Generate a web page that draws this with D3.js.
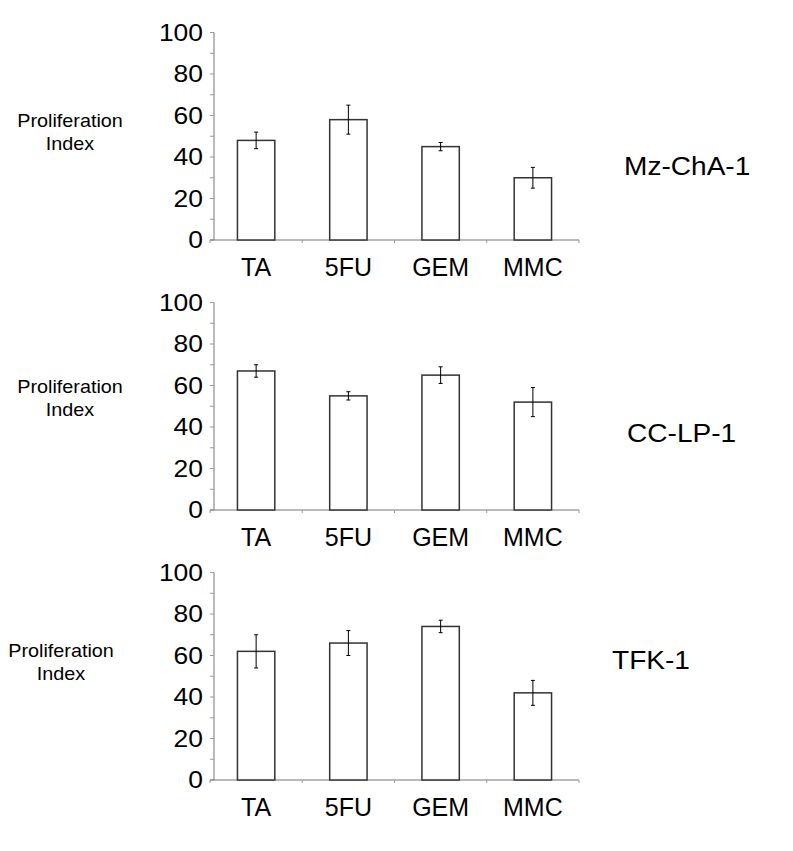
<!DOCTYPE html>
<html>
<head>
<meta charset="utf-8">
<script src="https://cdn.jsdelivr.net/npm/d3@7"></script>
<style>
  html, body { margin: 0; padding: 0; background: #fff; }
  svg { display: block; font-family: "Liberation Sans", Arial, Helvetica, sans-serif; }
</style>
</head>
<body>
<svg id="chart" width="793" height="851"></svg>
<script>
// ---- data ----
const categories = ["TA", "5FU", "GEM", "MMC"];
const cellLines = ["Mz-ChA-1", "CC-LP-1", "TFK-1"];
const valuesMz = [48, 58, 45, 30];
const errorsMz = [4, 7, 2, 5];
const valuesCC = [67, 55, 65, 52];
const errorsCC = [3, 2, 4, 7];
const valuesTFK = [62, 66, 74, 42];
const errorsTFK = [8, 6, 3, 6];
const yTickLabels = [0, 20, 40, 60, 80, 100];
const yLabel = ["Proliferation", "Index"];

const panels = [
  { name: cellLines[0], values: valuesMz, errors: errorsMz },
  { name: cellLines[1], values: valuesCC, errors: errorsCC },
  { name: cellLines[2], values: valuesTFK, errors: errorsTFK }
];

// ---- layout ----
const svg = d3.select("#chart");
const panelTops = [32.5, 302.5, 572.5];
const plotH = 207.5;
const xStart = 210, xEnd = 579, yAxisX = 214;
const nameX = [624, 627, 612];
const nameY = [166, 433, 660];
const leftLabelX = [70, 70, 61];
const leftLabelY = [121, 387, 651];

const x = d3.scaleBand().domain(categories).range([xStart, xEnd]).paddingInner(0.595).paddingOuter(0.2975);

function stretchedText(g, tx, ty, sx) {
  return g.append("g")
    .attr("transform", `translate(${tx},${ty}) scale(${sx},1)`)
    .append("text");
}

panels.forEach((p, i) => {
  const top = panelTops[i];
  const y = d3.scaleLinear().domain([0, 100]).range([top + plotH, top]);
  const g = svg.append("g");

  // y axis line
  g.append("line")
    .attr("x1", yAxisX).attr("x2", yAxisX)
    .attr("y1", y(100)).attr("y2", y(0))
    .attr("stroke", "#777").attr("stroke-width", 1);
  // y ticks every 10
  g.selectAll(".ytick").data(d3.range(0, 101, 10)).join("line")
    .attr("x1", yAxisX - 4).attr("x2", yAxisX)
    .attr("y1", d => y(d)).attr("y2", d => y(d))
    .attr("stroke", "#999").attr("stroke-width", 1);
  // y tick labels
  yTickLabels.forEach(v => {
    stretchedText(g, 203, y(v), 1.15)
      .attr("dy", "0.36em")
      .attr("text-anchor", "end")
      .attr("font-size", 23)
      .attr("fill", "#000")
      .text(v);
  });

  // x axis line
  g.append("line")
    .attr("x1", xStart).attr("x2", xEnd)
    .attr("y1", y(0)).attr("y2", y(0))
    .attr("stroke", "#777").attr("stroke-width", 1);
  // category separator ticks
  const sep = categories.map(c => x(c) - x.step() * x.paddingOuter()).concat([xEnd]);
  g.selectAll(".xtick").data(sep).join("line")
    .attr("x1", d => d).attr("x2", d => d)
    .attr("y1", y(0)).attr("y2", y(0) + 3)
    .attr("stroke", "#999").attr("stroke-width", 1);
  // x labels
  g.selectAll(".xlab").data(categories).join("text")
    .attr("x", d => x(d) + x.bandwidth() / 2)
    .attr("y", y(0) + 36)
    .attr("text-anchor", "middle")
    .attr("font-size", 25)
    .attr("fill", "#000")
    .text(d => d);

  // bars
  g.selectAll(".bar").data(p.values).join("rect")
    .attr("x", (d, j) => x(categories[j]))
    .attr("y", d => y(d))
    .attr("width", x.bandwidth())
    .attr("height", d => y(0) - y(d))
    .attr("fill", "#fff")
    .attr("stroke", "#333").attr("stroke-width", 1.5);

  // error bars
  const eb = g.selectAll(".err").data(p.values).join("g");
  eb.append("line")
    .attr("x1", (d, j) => x(categories[j]) + x.bandwidth() / 2)
    .attr("x2", (d, j) => x(categories[j]) + x.bandwidth() / 2)
    .attr("y1", (d, j) => y(d + p.errors[j]))
    .attr("y2", (d, j) => y(d - p.errors[j]))
    .attr("stroke", "#000").attr("stroke-width", 1);
  [1, -1].forEach(s => {
    eb.append("line")
      .attr("x1", (d, j) => x(categories[j]) + x.bandwidth() / 2 - 2)
      .attr("x2", (d, j) => x(categories[j]) + x.bandwidth() / 2 + 2)
      .attr("y1", (d, j) => y(d + s * p.errors[j]))
      .attr("y2", (d, j) => y(d + s * p.errors[j]))
      .attr("stroke", "#000").attr("stroke-width", 1);
  });

  // left label
  const ll = stretchedText(g, leftLabelX[i], leftLabelY[i], 1.1)
    .attr("text-anchor", "middle")
    .attr("font-size", 18)
    .attr("fill", "#000");
  yLabel.forEach((t, k) => {
    ll.append("tspan").attr("x", 0).attr("dy", k === 0 ? "0.36em" : 23).text(t);
  });

  // cell line name
  stretchedText(g, nameX[i], nameY[i], 1.08)
    .attr("dy", "0.36em")
    .attr("font-size", 26)
    .attr("fill", "#000")
    .text(p.name);
});
</script>
</body>
</html>
